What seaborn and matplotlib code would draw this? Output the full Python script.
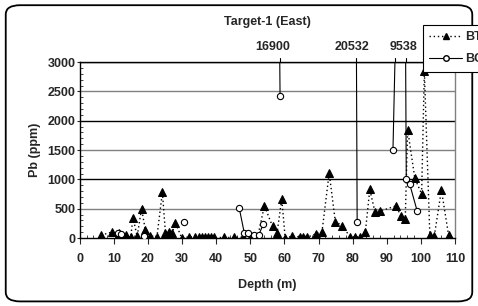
import numpy as np
import pandas as pd
import seaborn as sb
import matplotlib.pyplot as plt
from matplotlib.lines import Line2D
from matplotlib.patches import FancyBboxPatch
from matplotlib.ticker import MultipleLocator

# BT series (dotted, filled triangles)
bt_depth = [6.2, 9.3, 11.5, 13.5, 14.9, 15.6, 16.8, 18.1, 19.2, 20.5, 22.6, 24.2, 25.1, 26.0,
            27.1, 28.0, 29.9, 32.0, 33.8, 34.8, 35.7, 36.6, 37.6, 38.5, 39.2, 42.2, 45.3,
            47.8, 50.1, 52.1, 54.1, 56.5, 57.8, 59.2, 60.2, 62.2, 64.5, 65.5, 66.5, 69.1,
            71.0, 73.1, 74.9, 77.0, 79.2, 80.8, 82.2, 83.7, 85.0, 86.5, 88.1, 92.7, 94.1,
            95.4, 96.1, 98.2, 100.2, 101.0, 102.6, 103.9, 106.0, 108.1]
bt_pb = [50, 100, 80, 50, 10, 350, 30, 500, 140, 40, 20, 780, 90, 100,
         90, 260, 0, 20, 20, 20, 20, 20, 10, 10, 10, 10, 10,
         15, 30, 10, 550, 200, 80, 670, 0, 30, 20, 10, 10, 70,
         110, 1110, 280, 210, 20, 20, 20, 100, 830, 450, 460, 550, 380,
         330, 1850, 1020, 750, 2850, 60, 30, 820, 50]

# BC series (solid, open circles); seg = connected run of samples
bc_depth = [11.2, 12.2, 18.8, 30.6, 46.7, 48.2, 49.4, 51.1, 52.4, 53.8,
            56.5, 58.7, 79.8, 81.3, 91.8, 94.9, 95.7, 96.7, 98.9]
bc_pb = [90, 70, 40, 270, 520, 90, 90, 50, 45, 240,
         16900, 2420, 20532, 270, 1510, 9538, 1010, 920, 460]
bc_seg = [1, 1, 2, 3, 4, 4, 4, 4, 4, 4, 5, 5, 6, 6, 7, 7, 7, 7, 7]

y_max = 3000

bt = pd.DataFrame({'depth': bt_depth, 'pb': bt_pb})
bc = pd.DataFrame({'depth': bc_depth, 'pb': bc_pb, 'seg': bc_seg})

sb.set_style('white')
plt.rcParams['font.family'] = ['Liberation Sans', 'DejaVu Sans']
plt.rcParams['font.weight'] = 'bold'
fs = 9
plt.rcParams['font.size'] = fs

fig = plt.figure(figsize=(4.78, 3.06), dpi=100)
ax = fig.add_axes([0.167, 0.222, 0.785, 0.575])

# grid lines, alternating grey / black like the original
for v in range(500, y_max + 1, 500):
    ax.axhline(v, color='#808080' if v % 1000 else 'black', lw=1, zorder=1)

sb.lineplot(data=bt, x='depth', y='pb', sort=False, color='black', lw=1,
            linestyle=(0, (1, 2)), marker='^', markersize=6,
            markeredgecolor='black', markerfacecolor='black', ax=ax, zorder=3)
sb.lineplot(data=bc, x='depth', y='pb', units='seg', estimator=None, sort=False,
            color='black', lw=0.8, marker='o', markersize=4.5,
            markeredgecolor='black', markerfacecolor='white', markeredgewidth=0.8,
            ax=ax, zorder=4)

ax.set_xlim(0, 110)
ax.set_ylim(0, y_max)

# off-scale values: extend lines above the plot and label them
for s, g in bc.groupby('seg'):
    d = g['depth'].to_numpy()
    p = g['pb'].to_numpy()
    for i in range(len(d) - 1):
        if (p[i] > y_max) != (p[i + 1] > y_max):
            xc = d[i] + (d[i + 1] - d[i]) * (y_max - p[i]) / (p[i + 1] - p[i])
            ax.plot([xc, xc], [1.0, 1.025], color='black', lw=0.8,
                    transform=ax.get_xaxis_transform(), clip_on=False)
    for dd, pp in zip(d, p):
        if pp > y_max:
            ax.text(dd, 1.05, str(pp), ha='center', va='bottom', fontsize=fs,
                    fontweight='bold', transform=ax.get_xaxis_transform())

ax.xaxis.set_major_locator(MultipleLocator(10))
ax.xaxis.set_minor_locator(MultipleLocator(2))
ax.yaxis.set_major_locator(MultipleLocator(500))
ax.yaxis.set_minor_locator(MultipleLocator(100))
ax.tick_params(which='major', direction='out', length=4, width=0.8, labelsize=fs)
ax.tick_params(which='minor', direction='in', length=2, width=0.6)
ax.tick_params(axis='x', which='both', bottom=True)
ax.tick_params(axis='x', which='major', pad=7)
ax.tick_params(axis='y', which='both', left=True)
ax.tick_params(axis='y', which='major', length=2, pad=1)
for lab in ax.get_xticklabels() + ax.get_yticklabels():
    lab.set_fontweight('bold')

for side in ['left', 'bottom', 'top']:
    ax.spines[side].set_color('black')
    ax.spines[side].set_linewidth(1)
ax.spines['right'].set_color('#808080')
ax.spines['right'].set_linewidth(1)

ax.set_xlabel('Depth (m)', fontsize=fs, fontweight='bold', labelpad=10)
ax.set_ylabel('Pb (ppm)', fontsize=fs, fontweight='bold', labelpad=5)
ax.set_title('Target-1 (East)', fontsize=fs, fontweight='bold', pad=26.5)

handles = [Line2D([], [], color='black', lw=1, linestyle=(0, (1, 2)), marker='^',
                  markersize=5, markerfacecolor='black'),
           Line2D([], [], color='black', lw=0.8, marker='o', markersize=4,
                  markerfacecolor='white')]
leg = fig.legend(handles, ['BT', 'BC'], loc='upper left',
                 bbox_to_anchor=(423 / 478, 1 - 25 / 306), borderaxespad=0,
                 frameon=True, fancybox=False, edgecolor='black', framealpha=1,
                 prop={'weight': 'bold', 'size': fs}, handlelength=2.6,
                 borderpad=0.5, labelspacing=0.8, handletextpad=0.3)
leg.get_frame().set_linewidth(0.8)

fig.patches.append(FancyBboxPatch((0.012, 0.015), 0.976, 0.968,
                                  boxstyle='round,pad=0,rounding_size=0.03',
                                  transform=fig.transFigure, fill=False,
                                  edgecolor='black', lw=1.3))

fig.savefig('out.png', dpi=100)
